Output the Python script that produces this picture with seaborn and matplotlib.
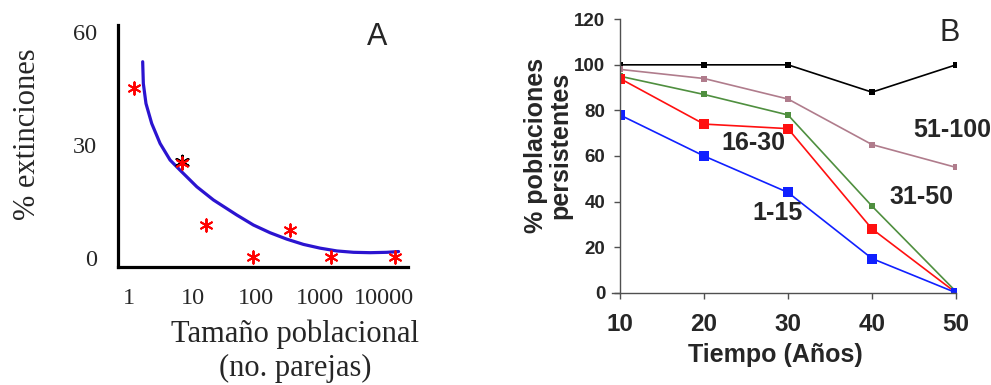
import pandas as pd
import matplotlib
matplotlib.use('Agg')
import matplotlib.pyplot as plt
import seaborn as sns

# Panel A: extinction vs population size
tamano = [1.2, 6.9, 16.3, 89, 337, 1490, 14900]
extinciones = [45.1, 25.3, 8.75, 0.3, 7.4, 0.3, 0.3]
tamano_negro = [6.8]
extinciones_negro = [25.5]
curva_x = [1.66, 1.70, 1.87, 2.30, 3.11, 4.46, 6.40, 11.7, 21.3, 49.5, 90, 164, 300, 547,
           1000, 1830, 3330, 6080, 11100, 16900]
curva_y = [52.1, 46.3, 41.0, 35.7, 30.4, 26.0, 23.3, 18.9, 15.4, 11.4, 8.75, 6.7, 5.0, 3.6,
           2.6, 1.86, 1.5, 1.4, 1.5, 1.7]
ticks_a = [1, 10, 100, 1000, 10000]

# Panel B: persistent populations over time
tiempo = [10, 20, 30, 40, 50]
grupos = ['>100', '51-100', '31-50', '16-30', '1-15']
valores = {
    '>100': [100, 100, 100, 88, 100],
    '51-100': [98, 94, 85, 65, 55],
    '31-50': [95, 87, 78, 38, 0.5],
    '16-30': [94, 74, 72, 28, 0],
    '1-15': [78, 60, 44, 15, 0],
}
colores = {'>100': 'black', '51-100': '#b07c8c', '31-50': '#4f8f3f',
           '16-30': '#ff1010', '1-15': '#1020ff'}
marcas = {'>100': 4, '51-100': 4, '31-50': 4, '16-30': 7, '1-15': 7}
etiquetas = {'51-100': (49.5, 71.4), '31-50': (45.9, 42), '16-30': (25.9, 65.7), '1-15': (28.7, 35)}

sns.set_style('white')

fig = plt.figure(figsize=(9.91, 3.85), dpi=100)
ax1 = fig.add_axes([0.119, 0.3065, 0.293, 0.629])
ax2 = fig.add_axes([0.6256, 0.2397, 0.3391, 0.7103])

# ---- A ----
sns.lineplot(x=curva_x, y=curva_y, ax=ax1, color='#2b14d0', linewidth=2.3, sort=False)
sns.scatterplot(x=tamano_negro, y=extinciones_negro, ax=ax1, marker=(6, 2, 0),
                color='black', s=90, linewidth=1.8, zorder=3)
sns.scatterplot(x=tamano, y=extinciones, ax=ax1, marker=(6, 2, 0),
                color='red', s=80, linewidth=1.4, zorder=4)
ax1.set_xscale('log')
ax1.set_xlim(0.68, 24000)
ax1.set_ylim(-2.4, 61.9)
ax1.set_xticks(ticks_a)
ax1.set_xticklabels([str(t) for t in ticks_a])
ax1.minorticks_off()
ax1.set_yticks([0, 30, 60])
for s in ['top', 'right']:
    ax1.spines[s].set_visible(False)
for s in ['left', 'bottom']:
    ax1.spines[s].set_linewidth(2.3)
    ax1.spines[s].set_color('black')
ax1.tick_params(length=0, labelsize=17.5, pad=15)
for lab in ax1.get_xticklabels() + ax1.get_yticklabels():
    lab.set_family('Liberation Serif')
ax1.set_xlabel('Tamaño poblacional\n(no. parejas)', family='Liberation Serif', fontsize=22,
               linespacing=1.25)
ax1.xaxis.set_label_coords(0.61, -0.215)
ax1.set_ylabel('% extinciones', family='Liberation Serif', fontsize=22)
ax1.yaxis.set_label_coords(-0.262, 0.55)
fig.text(0.381, 0.905, 'A', family='Liberation Sans', fontsize=22, ha='center', va='center')

# ---- B ----
for g in grupos:
    sns.lineplot(x=tiempo, y=valores[g], ax=ax2, color=colores[g], linewidth=1.2,
                 marker='s', markersize=marcas[g], markeredgewidth=0)
for g, (xt, yt) in etiquetas.items():
    ax2.text(xt, yt, g, fontsize=18, fontweight='bold', family='Liberation Sans',
             ha='center', va='center')
ax2.set_xlim(10, 50)
ax2.set_ylim(0, 120)
ax2.set_xticks(tiempo)
ax2.set_yticks(range(0, 121, 20))
for s in ['top', 'right']:
    ax2.spines[s].set_visible(False)
for s in ['left', 'bottom']:
    ax2.spines[s].set_color('#505050')
    ax2.spines[s].set_linewidth(1.0)
ax2.spines['bottom'].set_bounds(9.0, 50)
ax2.tick_params(axis='both', length=4.5, width=1, color='#505050', direction='out',
                left=True, bottom=True)
ax2.tick_params(axis='y', labelsize=13.5, pad=6)
ax2.tick_params(axis='x', labelsize=17.5, pad=10)
for lab in ax2.get_xticklabels() + ax2.get_yticklabels():
    lab.set_family('Liberation Sans')
    lab.set_fontweight('bold')
ax2.set_xlabel('Tiempo (Años)', family='Liberation Sans', fontweight='bold', fontsize=18)
ax2.xaxis.set_label_coords(0.461, -0.185)
ax2.set_ylabel('% poblaciones\npersistentes', family='Liberation Sans', fontweight='bold',
               fontsize=18, linespacing=1.0)
ax2.yaxis.set_label_coords(-0.143, 0.54)
fig.text(0.958, 0.913, 'B', family='Liberation Sans', fontsize=22, ha='center', va='center')

fig.savefig('out.png', dpi=100)
